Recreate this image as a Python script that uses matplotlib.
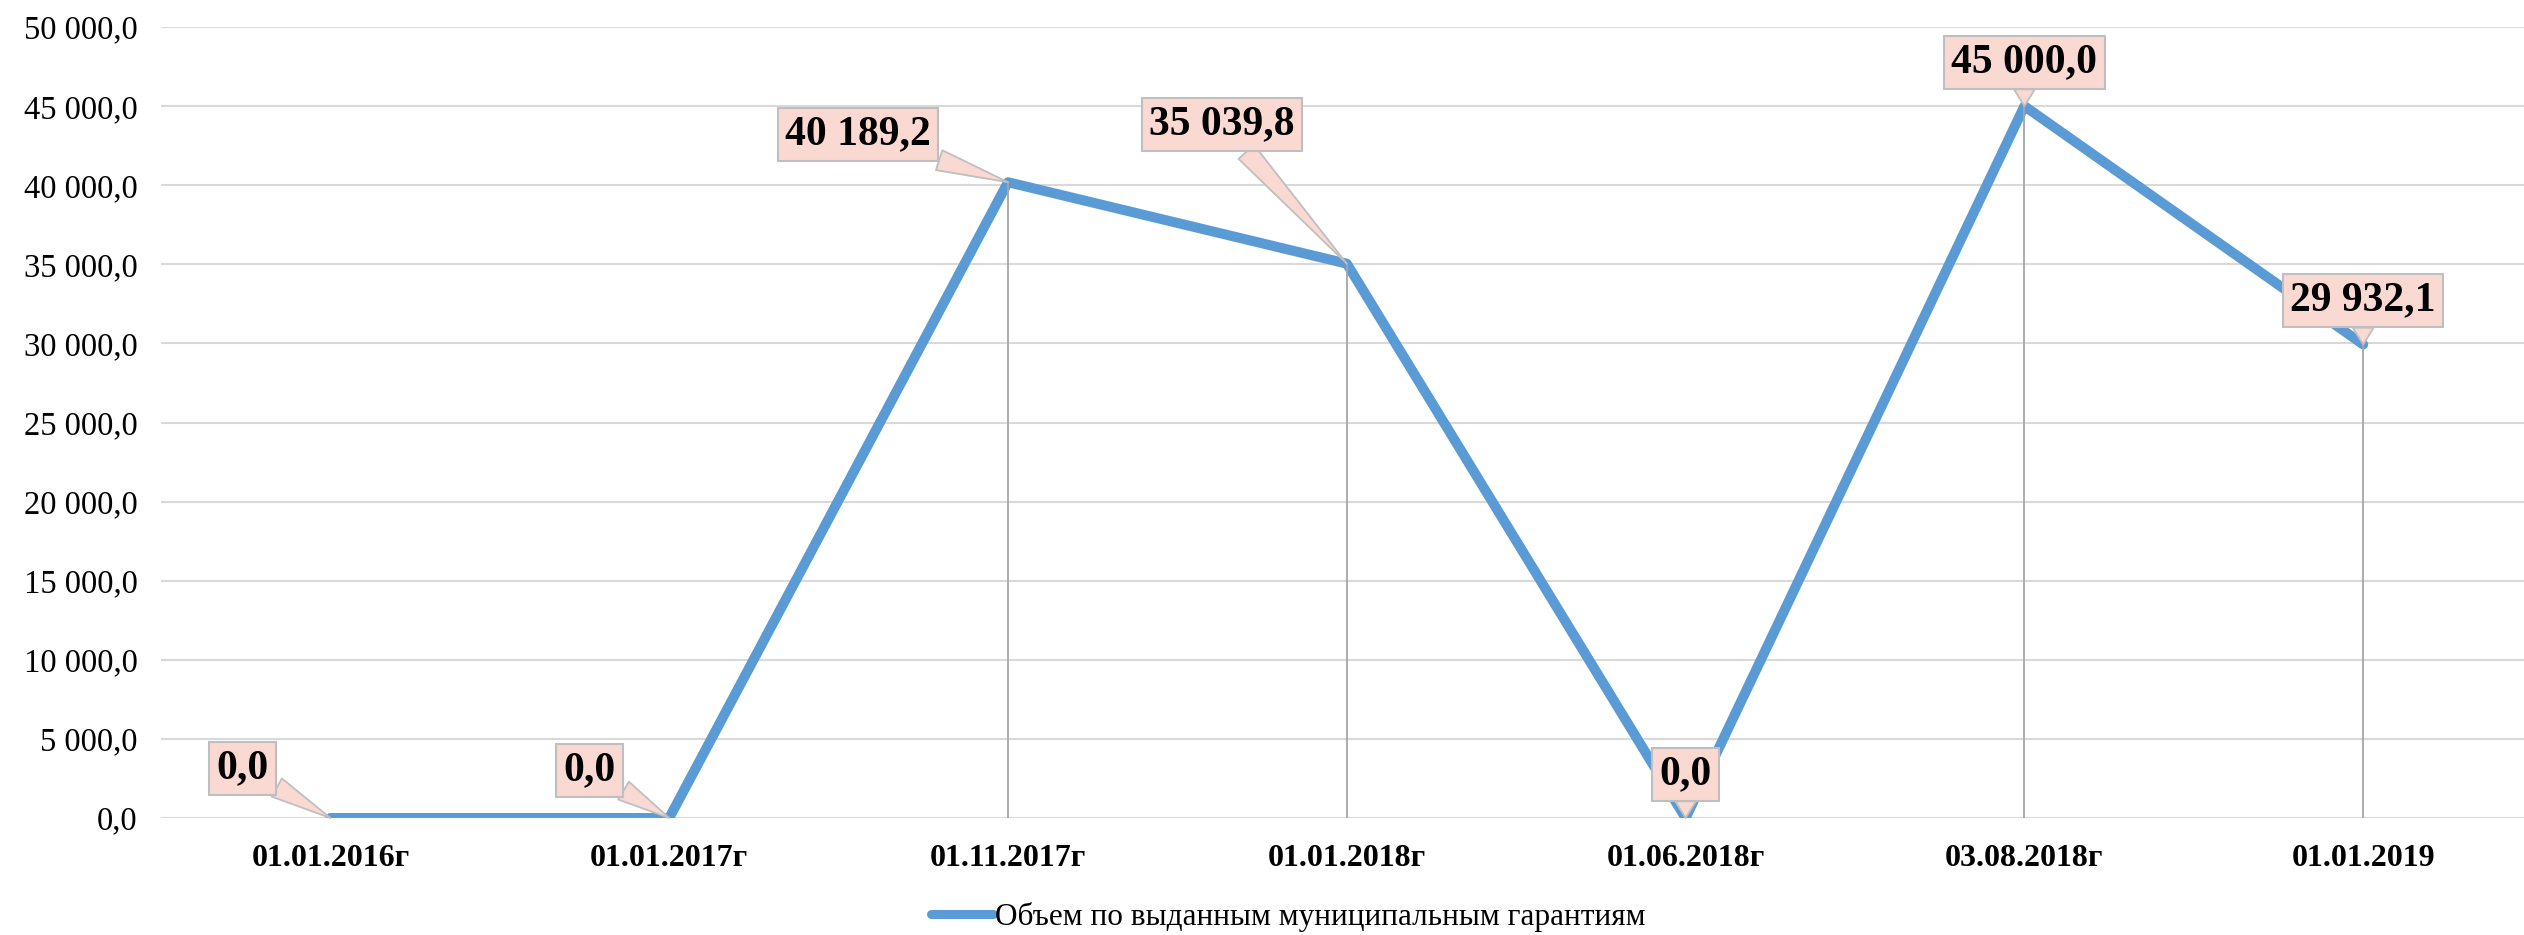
import matplotlib
matplotlib.use("Agg")
import matplotlib.pyplot as plt
import numpy as np

# ---- data ----
categories = ["01.01.2016г", "01.01.2017г", "01.11.2017г", "01.01.2018г",
              "01.06.2018г", "03.08.2018г", "01.01.2019"]
values = [0.0, 0.0, 40189.2, 35039.8, 0.0, 45000.0, 29932.1]
series_name = "Объем по выданным муниципальным гарантиям"
yticks = [0, 5000, 10000, 15000, 20000, 25000, 30000, 35000, 40000, 45000, 50000]

# label box offsets (pixels, relative to point)
label_offsets = [(-88, 50), (-80, 48), (-150, 48), (-125, 139), (0, 44), (0, 44), (0, 44)]

LINE_C = "#5B9BD5"
GRID_C = "#D9D9D9"
BOX_FC = "#FBD9D3"
BOX_EC = "#BFBFBF"
DROP_C = "#A6A6A6"
SERIF = "Liberation Serif"


def fmt(v):
    s = f"{v:,.1f}"
    return s.replace(",", " ").replace(".", ",")


W, H = 2524, 935
fig = plt.figure(figsize=(W / 100, H / 100), dpi=100)
left = 161 / W
bottom = 1 - 818 / H
top = 1 - 27 / H
width = 7 * 338.8 / W
ax = fig.add_axes([left, bottom, width, top - bottom])

x = np.arange(len(categories))
ax.plot(x, values, color=LINE_C, lw=7.2, solid_capstyle="round",
        solid_joinstyle="round", zorder=3, label=series_name)
ax.vlines(x, 0, values, color=DROP_C, lw=1.3, zorder=4)

ax.set_xlim(-0.5, len(categories) - 0.5)
ax.set_ylim(0, 50000)
ax.set_yticks(yticks)
ax.set_yticklabels([fmt(v) for v in yticks], fontfamily=SERIF, fontsize=23.5)
ax.set_xticks(x)
ax.set_xticklabels(categories, fontfamily=SERIF, fontsize=23, fontweight="bold")
ax.tick_params(axis="y", length=0, pad=17)
ax.tick_params(axis="x", length=0, pad=19)
ax.grid(axis="y", color=GRID_C, lw=1.5, zorder=0)
ax.set_axisbelow(True)
for sp in ax.spines.values():
    sp.set_visible(False)

for xi, v, (dx, dy) in zip(x, values, label_offsets):
    ax.annotate(fmt(v), xy=(xi, v), xytext=(dx, dy), textcoords="offset pixels",
                ha="center", va="center", fontsize=30, fontweight="bold",
                fontfamily=SERIF, zorder=6,
                bbox=dict(boxstyle="square,pad=0.18", fc=BOX_FC, ec=BOX_EC, lw=1.5),
                arrowprops=dict(arrowstyle="wedge,tail_width=0.5", fc=BOX_FC,
                                ec=BOX_EC, lw=1.3, shrinkA=0, shrinkB=0))

leg = fig.legend(loc="center", bbox_to_anchor=(1288 / W, 1 - 917 / H),
                 frameon=False, handlelength=2.0, handletextpad=0.05,
                 prop={"family": SERIF, "size": 22.5})
for h in leg.get_lines():
    h.set_linewidth(6.5)
    h.set_solid_capstyle("round")

fig.savefig("out.png", dpi=100)
